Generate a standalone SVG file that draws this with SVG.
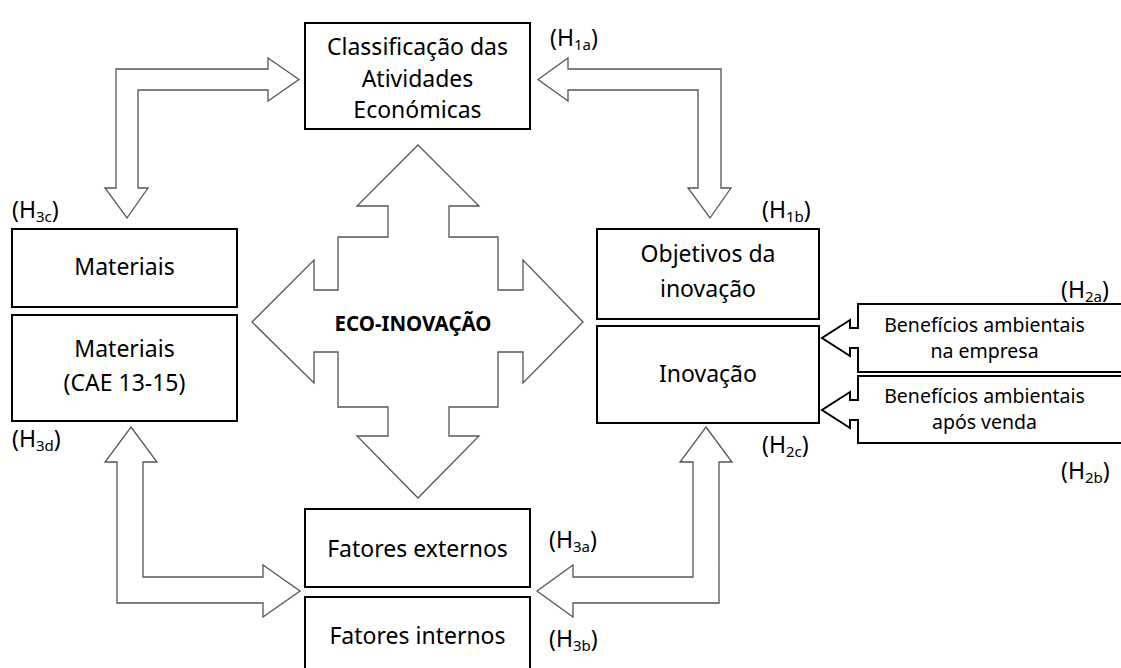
<svg xmlns="http://www.w3.org/2000/svg" width="1121" height="668" viewBox="0 0 1121 668">
  <style>
    .box{fill:#fff;stroke:#000;stroke-width:2}
    .arrow{fill:#fff;stroke:#555;stroke-width:1.3;stroke-linejoin:miter}
    .callout{fill:#fff;stroke:#000;stroke-width:2;stroke-linejoin:miter}
    .t{font-family:"Noto Sans","DejaVu Sans",sans-serif;font-size:23px;fill:#000;text-anchor:middle}
    .s{font-size:19.5px}
    .b{font-weight:bold;font-size:20.5px}
    .h{font-family:"Noto Sans","DejaVu Sans",sans-serif;font-size:23px;fill:#000}
    .sub{font-size:15px}
  </style>
  <rect width="1121" height="668" fill="#fff"/>

  <!-- block arrows linking the boxes -->
  <g id="connectors">
    <path class="arrow" d="M299,79.5 L268,58 L268,69 L116,69 L116,188 L105,188 L127,218 L148,188 L138,188 L138,90 L268,90 L268,101 Z"/>
    <path class="arrow" d="M538,79.5 L568,58 L568,69 L721,69 L721,188 L731,188 L710,218 L688,188 L698,188 L698,90 L568,90 L568,101 Z"/>
    <path class="arrow" d="M131,427 L157,462 L143,462 L143,577 L263,577 L263,565 L300,591 L263,617 L263,603 L117,603 L117,462 L105,462 Z"/>
    <path class="arrow" d="M706,427 L732,462 L719,462 L719,603 L573,603 L573,617 L537,591 L573,565 L573,577 L693,577 L693,462 L680,462 Z"/>
  </g>

  <!-- central four-way arrow -->
  <g id="eco-inovacao">
    <path class="arrow" d="M418,145 L479,206 L449,206 L449,237 L498,237 L498,290 L523,290 L523,260 L583,322 L523,383 L523,352 L498,352 L498,407 L449,407 L449,436 L479,436 L418,498 L357,436 L388,436 L388,407 L338,407 L338,352 L314,352 L314,383 L252,322 L314,260 L314,290 L338,290 L338,237 L388,237 L388,206 L357,206 Z"/>
    <text class="t b" x="413" y="331">ECO-INOVAÇÃO</text>
  </g>

  <g id="classificacao">
    <rect class="box" x="305" y="23" width="225" height="106"/>
    <text class="t" x="417.5" y="55">Classificação das</text>
    <text class="t" x="417.5" y="87">Atividades</text>
    <text class="t" x="417.5" y="118">Económicas</text>
  </g>

  <g id="materiais">
    <rect class="box" x="12" y="229" width="225" height="78"/>
    <text class="t" x="124.5" y="275">Materiais</text>
  </g>

  <g id="materiais-cae">
    <rect class="box" x="12" y="315" width="225" height="106"/>
    <text class="t" x="124.5" y="357">Materiais</text>
    <text class="t" x="124.5" y="391">(CAE 13-15)</text>
  </g>

  <g id="objetivos">
    <rect class="box" x="597" y="229" width="222" height="90"/>
    <text class="t" x="708" y="262">Objetivos da</text>
    <text class="t" x="708" y="297">inovação</text>
  </g>

  <g id="inovacao">
    <rect class="box" x="597" y="326" width="222" height="97"/>
    <text class="t" x="708" y="382">Inovação</text>
  </g>

  <g id="beneficios-empresa">
    <path class="callout" d="M1125,304 L858,304 L858,328 L850,328 L850,320 L822,338 L850,356 L850,348 L858,348 L858,372 L1125,372"/>
    <text class="t s" x="984.5" y="332">Benefícios ambientais</text>
    <text class="t s" x="984.5" y="358">na empresa</text>
  </g>

  <g id="beneficios-venda">
    <path class="callout" d="M1125,376 L858,376 L858,400 L850,400 L850,392 L822,410 L850,428 L850,420 L858,420 L858,443 L1125,443"/>
    <text class="t s" x="984.5" y="403">Benefícios ambientais</text>
    <text class="t s" x="984.5" y="429">após venda</text>
  </g>

  <g id="fatores-externos">
    <rect class="box" x="305" y="509" width="225" height="78"/>
    <text class="t" x="417.5" y="557">Fatores externos</text>
  </g>

  <g id="fatores-internos">
    <rect class="box" x="305" y="597" width="225" height="80"/>
    <text class="t" x="417.5" y="644">Fatores internos</text>
  </g>

  <!-- hypothesis labels -->
  <g id="hypotheses">
    <text class="h" x="550" y="46">(H<tspan class="sub" dy="4">1a</tspan><tspan dy="-4">)</tspan></text>
    <text class="h" x="762" y="218">(H<tspan class="sub" dy="4">1b</tspan><tspan dy="-4">)</tspan></text>
    <text class="h" x="1061" y="298">(H<tspan class="sub" dy="4">2a</tspan><tspan dy="-4">)</tspan></text>
    <text class="h" x="1061" y="479">(H<tspan class="sub" dy="4">2b</tspan><tspan dy="-4">)</tspan></text>
    <text class="h" x="762" y="453">(H<tspan class="sub" dy="4">2c</tspan><tspan dy="-4">)</tspan></text>
    <text class="h" x="549" y="548">(H<tspan class="sub" dy="4">3a</tspan><tspan dy="-4">)</tspan></text>
    <text class="h" x="549" y="647">(H<tspan class="sub" dy="4">3b</tspan><tspan dy="-4">)</tspan></text>
    <text class="h" x="12" y="218">(H<tspan class="sub" dy="4">3c</tspan><tspan dy="-4">)</tspan></text>
    <text class="h" x="12" y="447">(H<tspan class="sub" dy="4">3d</tspan><tspan dy="-4">)</tspan></text>
  </g>
</svg>
